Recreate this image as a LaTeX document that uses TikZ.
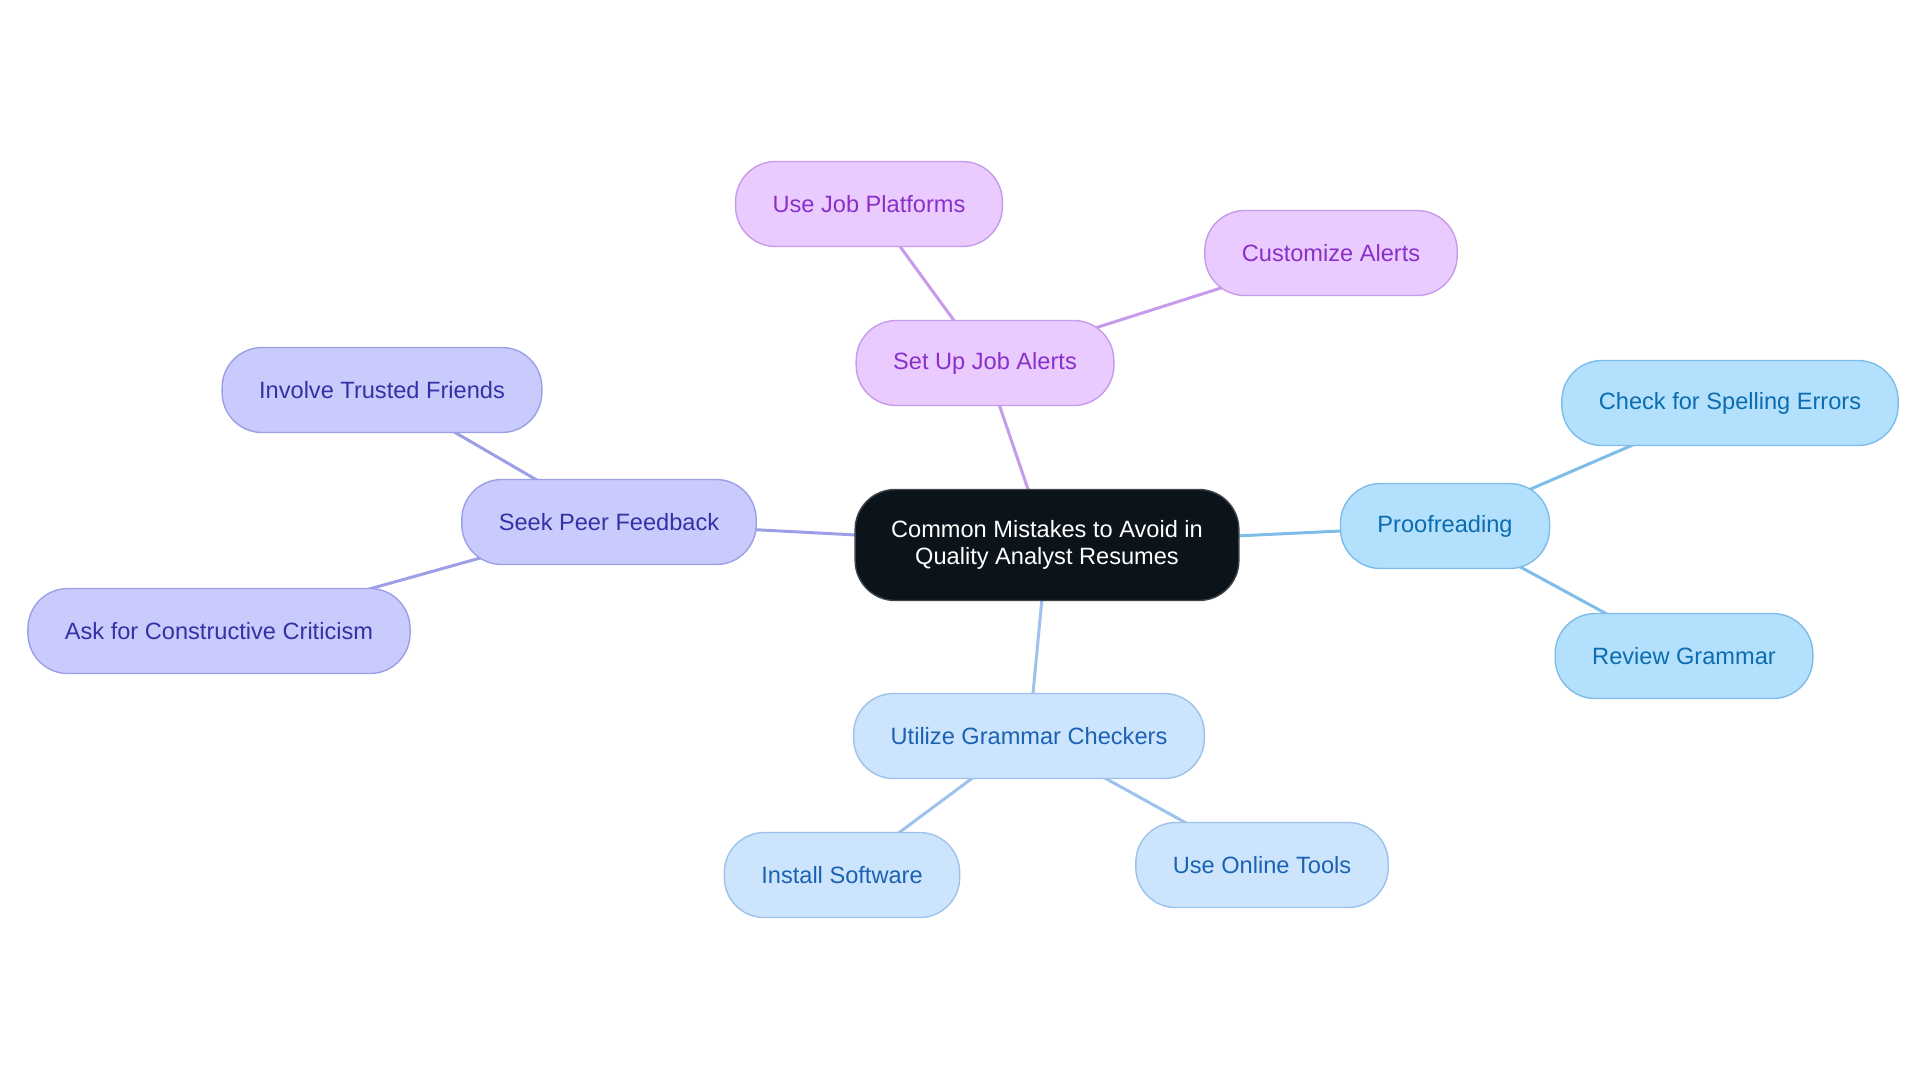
\documentclass[tikz,border=0pt]{standalone}
\usepackage{fontspec}
\setmainfont{Liberation Sans}
\usetikzlibrary{positioning, backgrounds}

\definecolor{rootfill}{HTML}{0C141B}
\definecolor{jobfill}{HTML}{E9CBFF}
\definecolor{jobline}{HTML}{C69BE9}
\definecolor{jobtext}{HTML}{8A2FC8}
\definecolor{prooffill}{HTML}{B3E0FC}
\definecolor{proofline}{HTML}{7EBDE8}
\definecolor{prooftext}{HTML}{0B6CB0}
\definecolor{gramfill}{HTML}{CCE4FC}
\definecolor{gramline}{HTML}{9DC2EC}
\definecolor{gramtext}{HTML}{1B62B5}
\definecolor{peerfill}{HTML}{C8CBFC}
\definecolor{peerline}{HTML}{9C9FE6}
\definecolor{peertext}{HTML}{3232A6}

\tikzset{
  bubble/.style={draw, line width=0.7pt, rounded corners=20pt, minimum height=42.5pt,
    inner xsep=18.5pt, font=\fontsize{11.8}{13.5}\selectfont, align=center},
  root/.style={bubble, fill=rootfill, draw=rootfill!80!white, text=white, minimum height=55.5pt, inner xsep=18pt},
  job/.style={bubble, fill=jobfill, draw=jobline, text=jobtext},
  proof/.style={bubble, fill=prooffill, draw=proofline, text=prooftext},
  gram/.style={bubble, fill=gramfill, draw=gramline, text=gramtext},
  peer/.style={bubble, fill=peerfill, draw=peerline, text=peertext},
  link/.style={line width=1.5pt}
}

\begin{document}
\begin{tikzpicture}[x=0.5pt, y=-0.5pt]
    \useasboundingbox (0,0) rectangle (1920,1083);

    % Centre
    \node[root] (mistakes) at (1047,545) {Common Mistakes to Avoid in\\Quality Analyst Resumes};

    % Job alerts branch
    \node[job] (alerts) at (985,363) {Set Up Job Alerts};
    \node[job] (platforms) at (869,204) {Use Job Platforms};
    \node[job] (customize) at (1331,253) {Customize Alerts};

    % Proofreading branch
    \node[proof] (proofreading) at (1445,526) {Proofreading};
    \node[proof] (spelling) at (1730,403) {Check for Spelling Errors};
    \node[proof] (grammar) at (1684,656) {Review Grammar};

    % Grammar checker branch
    \node[gram] (checkers) at (1029,736) {Utilize Grammar Checkers};
    \node[gram] (software) at (842,875) {Install Software};
    \node[gram] (online) at (1262,865) {Use Online Tools};

    % Peer feedback branch
    \node[peer] (feedback) at (609,522) {Seek Peer Feedback};
    \node[peer] (friends) at (382,390) {Involve Trusted Friends};
    \node[peer] (criticism) at (219,631) {Ask for Constructive Criticism};

    % Connectors (behind the bubbles)
    \begin{scope}[on background layer]
    \foreach \a/\b/\c in {mistakes/alerts/jobline, alerts/platforms/jobline, alerts/customize/jobline,
                          mistakes/proofreading/proofline, proofreading/spelling/proofline, proofreading/grammar/proofline,
                          mistakes/checkers/gramline, checkers/software/gramline, checkers/online/gramline,
                          mistakes/feedback/peerline, feedback/friends/peerline, feedback/criticism/peerline} {
      \draw[link, \c] (\a.center) -- (\b.center);
    }
    \end{scope}
  \end{tikzpicture}
\end{document}
